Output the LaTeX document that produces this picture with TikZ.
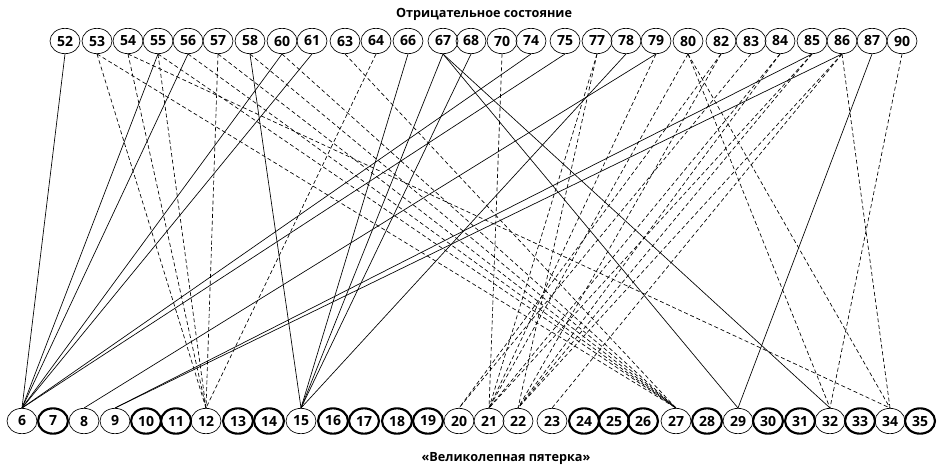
\documentclass[tikz,border=0pt]{standalone}
\usepackage{fontspec}
\setmainfont{Open Sans}
\usetikzlibrary{shapes.geometric}
\tikzset{
  num/.style={draw, ellipse, line width=0.5pt, minimum width=22.5pt, minimum height=19pt,
    inner sep=0pt, font=\fontsize{10.5}{11}\selectfont\bfseries},
  heavy/.style={num, line width=1.6pt},
  link/.style={line width=0.5pt},
  weak/.style={line width=0.5pt, dash pattern=on 3pt off 2pt},
  caption/.style={font=\fontsize{9.5}{10}\selectfont\bfseries}
}
\begin{document}
\begin{tikzpicture}[x=0.75pt, y=-0.75pt]
  \useasboundingbox (0,0) rectangle (941,468);
  \node[caption] (top) at (484,14) {Отрицательное состояние};
  \node[caption] (bottom) at (506,458) {«Великолепная пятерка»};
  \foreach \n/\x in {52/65, 53/97, 54/128, 55/158, 56/188, 57/218, 58/250, 60/282,
    61/312, 63/345, 64/376, 66/408, 67/443, 68/471, 70/502, 74/531, 75/565, 77/597,
    78/626, 79/656, 80/688, 82/721, 83/751, 84/780, 85/812, 86/842, 87/872, 90/902}
    \node[num] (t\n) at (\x,41) {\n};
  \foreach \n/\x in {6/22, 8/84, 9/115, 12/206, 15/301, 20/459, 21/489, 22/518,
    23/552, 27/676, 29/738, 32/830, 34/890}
    \node[num] (b\n) at (\x,421) {\n};
  \foreach \n/\x in {7/53, 10/146, 11/176, 13/238, 14/269, 16/333, 17/364, 18/397,
    19/428, 24/584, 25/614, 26/643, 28/707, 30/768, 31/800, 33/860, 35/920}
    \node[heavy] (b\n) at (\x,421) {\n};
  \foreach \a/\b in {52/6, 55/6, 56/6, 60/6, 61/6, 74/6, 75/6, 79/8, 85/9, 86/9,
    58/15, 66/15, 67/15, 68/15, 78/15, 67/29, 87/29, 67/32}
    \draw[link] (t\a.south) -- (b\b.north);
  \foreach \a/\b in {53/12, 54/12, 55/12, 57/12, 64/12,
    53/27, 55/27, 56/27, 57/27, 58/27, 60/27, 63/27,
    54/34, 80/34, 86/34, 80/32, 90/32,
    83/20, 82/20, 70/21, 77/21, 79/21, 80/21, 84/21, 85/21,
    77/22, 82/22, 84/22, 85/22, 86/22, 86/23}
    \draw[weak] (t\a.south) -- (b\b.north);
\end{tikzpicture}
\end{document}
